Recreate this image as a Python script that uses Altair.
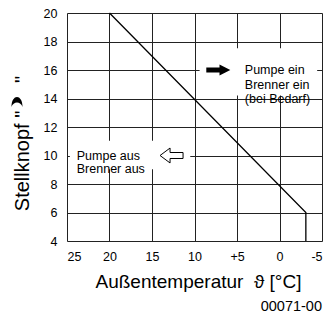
import altair as alt
import pandas as pd

# ---- data ----
temps = [20, -3.1, -3.1]          # Außentemperatur (°C)
knob = [20, 6, 4]                 # Stellknopf position
x_ticks = [25, 20, 15, 10, 5, 0, -5]
y_ticks = [4, 6, 8, 10, 12, 14, 16, 18, 20]

box_t1 = [9.4, 24.66]
box_t2 = [-4.43, 10.5]
box_k1 = [17.52, 11.03]
box_k2 = [14.21, 9.03]

note_t = [4.08, 23.85]
note_k = [16, 10]
note_text = [["Pumpe ein", "Brenner ein", "(bei Bedarf)"], ["Pumpe aus", "Brenner aus"]]

arrow_on_t = [7.2]
arrow_on_k = [16]
arrow_off_t = [12.7]
arrow_off_k = [10]

FONT = "Liberation Sans"
NB = "\u00a0"

xs = alt.Scale(domain=[25, -5], nice=False, zero=False)
ys = alt.Scale(domain=[4, 20], nice=False, zero=False)

X_AX = alt.Axis(values=x_ticks, grid=True, ticks=False, domain=False,
                labelExpr="datum.value == 5 ? '+5' : '' + datum.value",
                labelPadding=9, labelFontSize=12.5, labelFont=FONT, labelColor="black",
                title="Außentemperatur" + NB * 2 + "ϑ" + NB + "[°C]", titleFont=FONT,
                titleFontSize=19, titleFontWeight="normal", titleColor="black",
                titleX=131, titleY=46, titleAlign="center", titleBaseline="alphabetic",
                gridColor="#222222", gridOpacity=1, gridWidth=1)
Y_AX = alt.Axis(values=y_ticks, grid=True, ticks=False, domain=False,
                labelPadding=10, labelFontSize=12.5, labelFont=FONT, labelColor="black",
                title="Stellknopf" + NB + "\"" + NB * 5 + "\"", titleFont=FONT,
                titleFontSize=20, titleFontWeight="normal", titleColor="black", titleAngle=270,
                titleX=-39, titleY=130, titleAlign="center", titleBaseline="alphabetic",
                gridColor="#222222", gridOpacity=1, gridWidth=1)

line_df = pd.DataFrame({"t": temps, "k": knob, "o": list(range(len(temps)))})
box_df = pd.DataFrame({"t": box_t1, "t2": box_t2, "k": box_k1, "k2": box_k2})
note_df = pd.DataFrame({"t": note_t, "k": note_k, "txt": note_text})
on_df = pd.DataFrame({"t": arrow_on_t, "k": arrow_on_k})
off_df = pd.DataFrame({"t": arrow_off_t, "k": arrow_off_k})

X = alt.X("t:Q", scale=xs, axis=X_AX)
Y = alt.Y("k:Q", scale=ys, axis=Y_AX)

boxes = alt.Chart(box_df).mark_rect(fill="white", opacity=1).encode(
    x=X, x2="t2:Q", y=Y, y2="k2:Q")

line = alt.Chart(line_df).mark_line(color="black", strokeWidth=1.3).encode(
    x=X, y=Y, order="o:O")

notes1 = alt.Chart(note_df.iloc[[0]]).mark_text(
    align="left", baseline="middle", font=FONT, fontSize=12.5, lineHeight=14.5, color="black"
).encode(x=X, y=Y, text="txt")
notes2 = alt.Chart(note_df.iloc[[1]]).mark_text(
    align="left", baseline="middle", font=FONT, fontSize=12.5, lineHeight=13.5, color="black"
).encode(x=X, y=Y, text="txt")

arrow_on = alt.Chart(on_df).mark_point(
    shape="M-1,-0.21 L0.1,-0.21 L0.1,-0.46 L1,0 L0.1,0.46 L0.1,0.21 L-1,0.21 Z",
    size=576, filled=True, color="black", opacity=1, strokeWidth=0
).encode(x=X, y=Y)

arrow_off = alt.Chart(off_df).mark_point(
    shape="M1,-0.26 L-0.13,-0.26 L-0.13,-0.65 L-1,0 L-0.13,0.65 L-0.13,0.26 L1,0.26 Z",
    size=529, filled=True, fill="white", stroke="black", strokeWidth=1, opacity=1
).encode(x=X, y=Y)

# crescent (night) symbol inside the y-axis title
crescent = alt.Chart(on_df).mark_point(
    shape="M-1,0.9 C-1,-1.5 1,-1.5 1,0.9 C0.7,-0.2 -0.7,-0.2 -1,0.9 Z",
    size=121, filled=True, color="black", opacity=1, strokeWidth=0
).encode(x=alt.value(-50), y=alt.value(89))

footer = alt.Chart(on_df).mark_text(
    align="right", baseline="middle", font=FONT, fontSize=14.5, color="black", text="00071-00"
).encode(x=alt.value(255), y=alt.value(294))

chart = alt.layer(boxes, line, notes1, notes2, arrow_on, arrow_off, crescent, footer).properties(
    width=255, height=228,
    autosize=alt.AutoSizeParams(type="none"),
    padding={"left": 59, "top": 5, "right": 1, "bottom": 77},
).configure_view(stroke="black", strokeWidth=1.2).configure(background="white")

chart.save("out.html", embed_options={"renderer": "svg", "actions": False})
